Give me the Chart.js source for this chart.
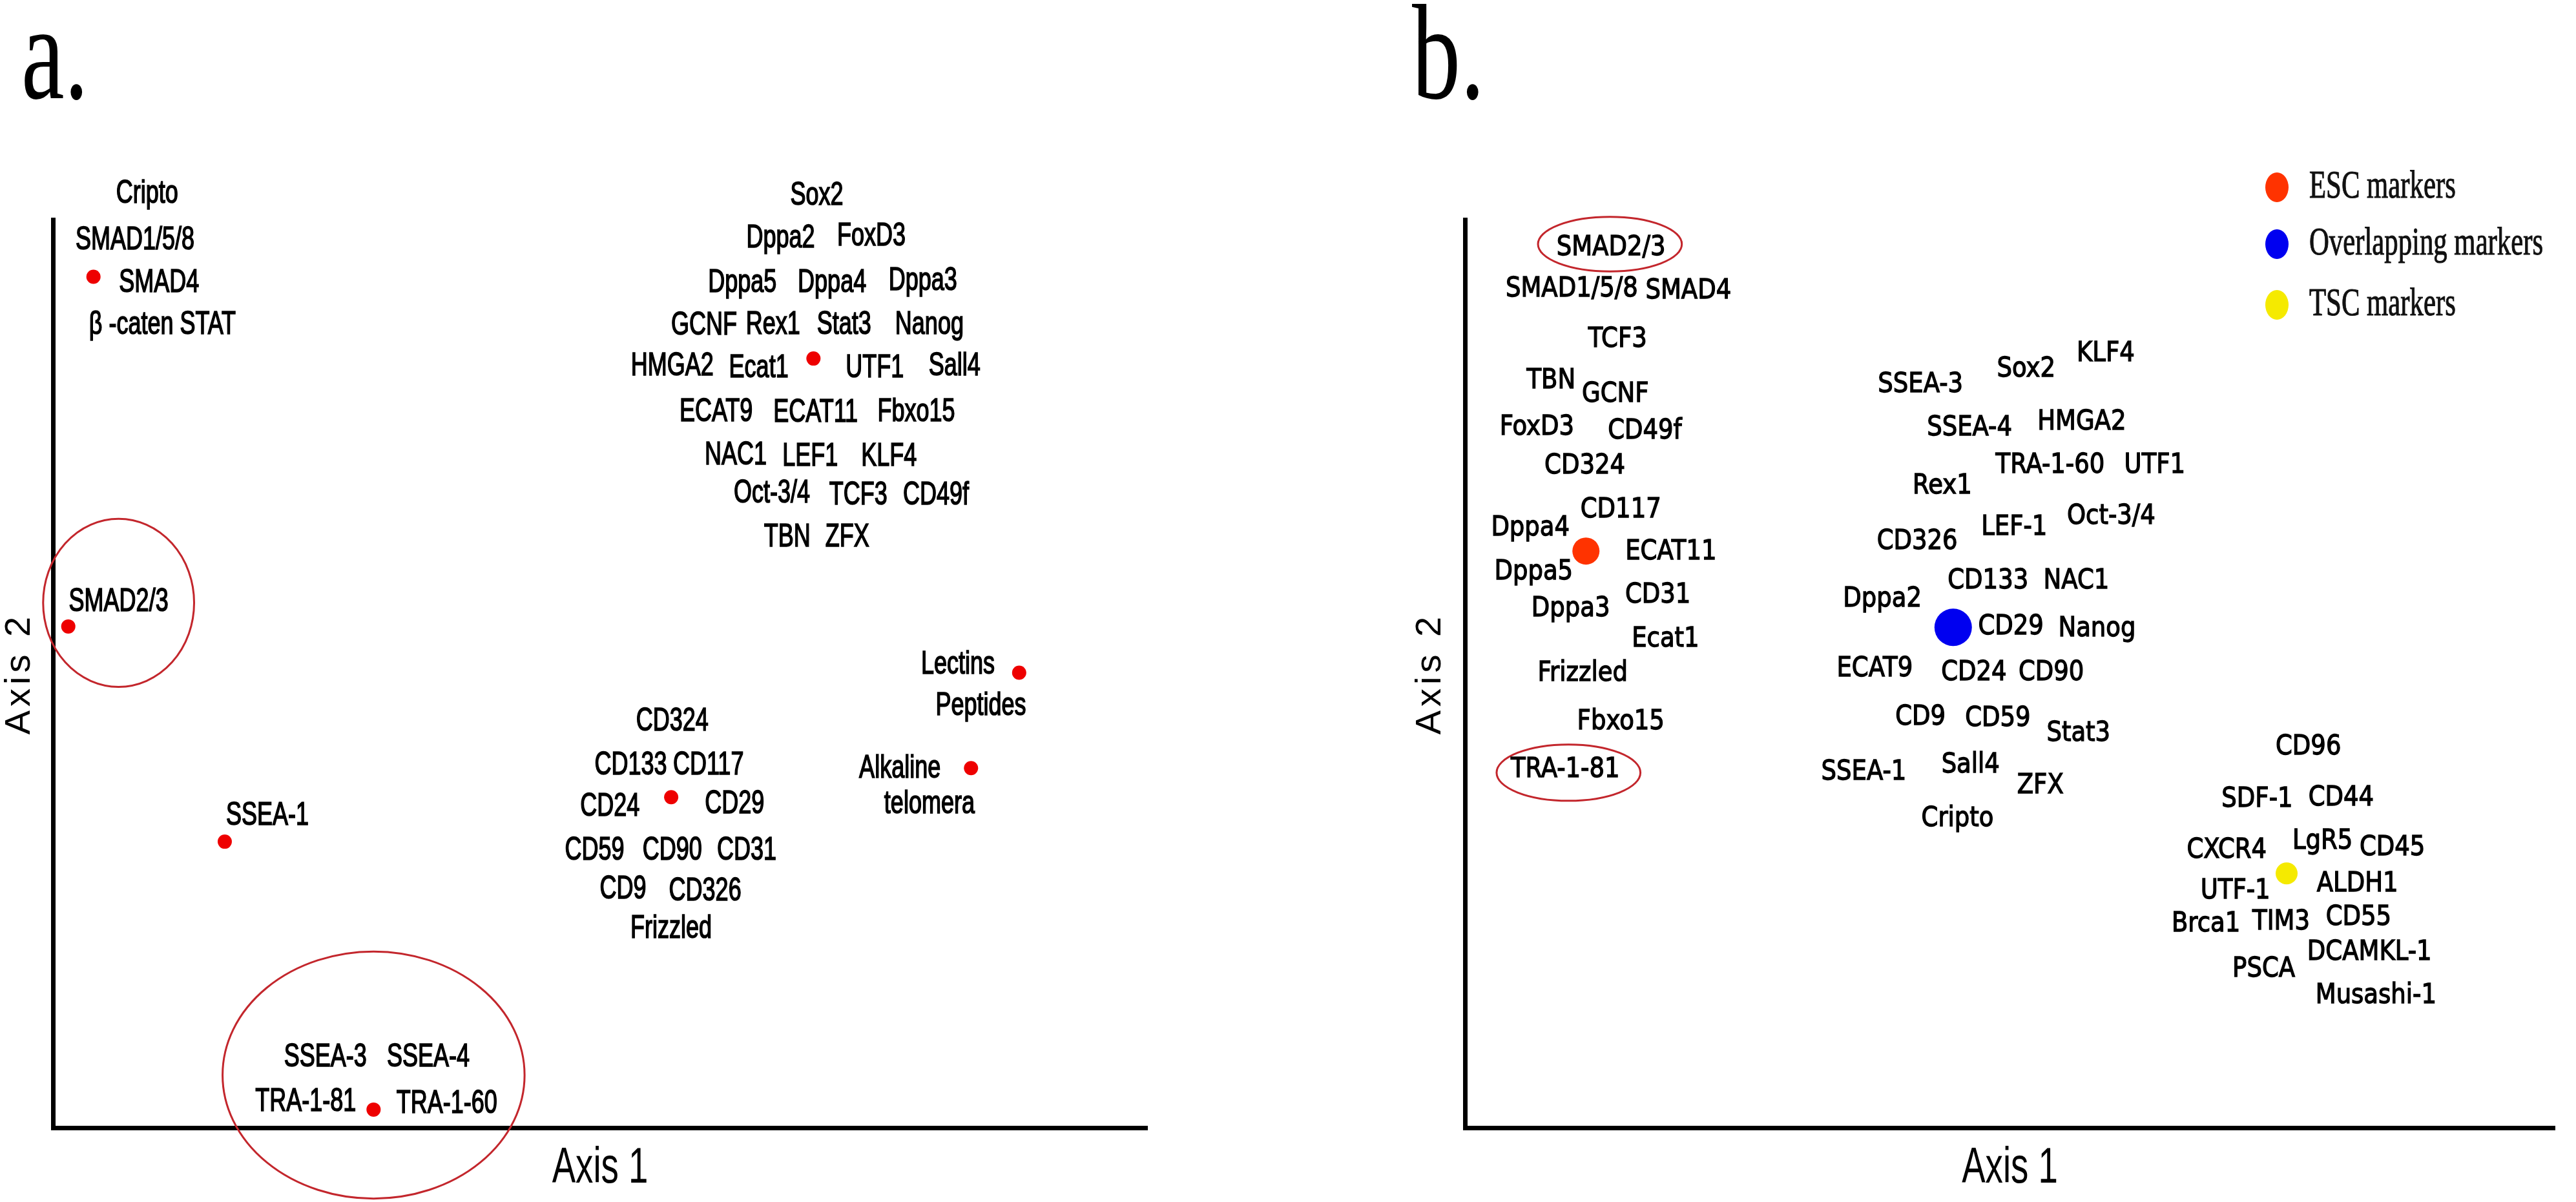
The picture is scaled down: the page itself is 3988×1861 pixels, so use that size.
<!DOCTYPE html>
<html>
<head>
<meta charset="utf-8">
<script src="https://cdn.jsdelivr.net/npm/chart.js@4/dist/chart.umd.min.js"></script>
<style>
  html, body { margin: 0; padding: 0; background: #fff; }
  body { width: 3988px; height: 1861px; position: relative; overflow: hidden; }
  canvas { position: absolute; top: 0; }
  #chartA { left: 0; }
  #chartB { left: 2150px; }
</style>
</head>
<body>
<canvas id="chartA" width="1990" height="1861"></canvas>
<canvas id="chartB" width="1838" height="1861"></canvas>
<script>
// ---- panel a: marker names and where they sit (axis units 0-100)
const aNames = ['Cripto', 'SMAD1/5/8', 'SMAD4', 'β -caten STAT', 'SMAD2/3',
    'Sox2', 'Dppa2', 'FoxD3', 'Dppa5', 'Dppa4', 'Dppa3',
    'GCNF', 'Rex1', 'Stat3', 'Nanog', 'HMGA2', 'Ecat1', 'UTF1', 'Sall4',
    'ECAT9', 'ECAT11', 'Fbxo15', 'NAC1', 'LEF1', 'KLF4',
    'Oct-3/4', 'TCF3', 'CD49f', 'TBN', 'ZFX',
    'Lectins', 'Peptides', 'Alkaline', 'telomera',
    'CD324', 'CD133', 'CD117', 'CD24', 'CD29', 'CD59', 'CD90', 'CD31', 'CD9', 'CD326', 'Frizzled',
    'SSEA-1', 'SSEA-3', 'SSEA-4', 'TRA-1-81', 'TRA-1-60'];
const aX = [8.6, 7.5, 9.7, 10.0, 6.0,
    69.8, 66.5, 74.8, 63.0, 71.2, 79.5,
    59.5, 65.8, 72.3, 80.1, 56.6, 64.5, 75.1, 82.4,
    60.6, 69.7, 78.9, 62.4, 69.2, 76.4,
    65.7, 73.6, 80.7, 67.1, 72.6,
    82.7, 84.8, 77.4, 80.1,
    56.6, 52.8, 59.9, 50.9, 62.3, 49.5, 56.6, 63.4, 52.1, 59.6, 56.5,
    19.6, 24.9, 34.3, 23.1, 36.0];
const aY = [102.8, 97.7, 93.0, 88.4, 57.9,
    102.6, 97.9, 98.1, 93.0, 93.0, 93.2,
    88.3, 88.4, 88.4, 88.4, 83.8, 83.6, 83.6, 83.8,
    78.8, 78.7, 78.8, 74.0, 73.9, 73.9,
    69.8, 69.6, 69.6, 65.0, 65.0,
    51.0, 46.4, 39.5, 35.6,
    44.7, 39.9, 39.9, 35.3, 35.6, 30.5, 30.5, 30.5, 26.2, 26.0, 21.9,
    34.3, 7.7, 7.7, 2.8, 2.6];
const aDotX = [3.7, 69.5, 1.4, 88.3, 83.9, 56.5, 15.7, 29.3];
const aDotY = [93.7, 84.7, 55.2, 50.1, 39.6, 36.4, 31.5, 2.0];
const aRingX = [6.0, 29.3];
const aRingY = [57.8, 5.8];
const aRingRX = [6.9, 13.8];
const aRingRY = [9.25, 13.6];

// ---- panel b
const bNames = ['SMAD2/3', 'SMAD1/5/8', 'SMAD4', 'TCF3', 'TBN', 'GCNF', 'FoxD3', 'CD49f', 'CD324',
    'CD117', 'Dppa4', 'ECAT11', 'Dppa5', 'CD31', 'Dppa3', 'Ecat1', 'Frizzled', 'Fbxo15', 'TRA-1-81',
    'SSEA-3', 'Sox2', 'KLF4', 'SSEA-4', 'HMGA2', 'TRA-1-60', 'UTF1', 'Rex1', 'Oct-3/4', 'LEF-1',
    'CD326', 'CD133', 'NAC1', 'Dppa2', 'CD29', 'Nanog', 'ECAT9', 'CD24', 'CD90', 'CD9', 'CD59',
    'Stat3', 'SSEA-1', 'Sall4', 'ZFX', 'Cripto',
    'CD96', 'SDF-1', 'CD44', 'CXCR4', 'LgR5', 'CD45', 'UTF-1', 'ALDH1', 'Brca1', 'TIM3', 'CD55',
    'DCAMKL-1', 'PSCA', 'Musashi-1'];
const bX = [13.4, 9.8, 20.5, 14.0, 7.9, 13.8, 6.6, 16.5, 11.0,
    14.3, 6.0, 18.9, 6.3, 17.7, 9.7, 18.4, 10.8, 14.3, 9.2,
    41.8, 51.5, 58.8, 46.3, 56.6, 53.7, 63.3, 43.8, 59.3, 50.4,
    41.5, 48.0, 56.1, 38.3, 50.1, 58.0, 37.6, 46.7, 53.8, 41.8, 48.9,
    56.3, 36.6, 46.4, 52.8, 45.2,
    77.4, 72.7, 80.4, 69.9, 78.7, 85.1, 70.7, 81.9, 68.0, 74.9, 82.0,
    83.0, 73.3, 83.6];
const bY = [96.9, 92.3, 92.1, 86.8, 82.2, 80.7, 77.1, 76.7, 72.8,
    68.0, 66.0, 63.4, 61.2, 58.6, 57.1, 53.8, 50.0, 44.7, 39.4,
    81.8, 83.5, 85.2, 77.0, 77.7, 72.9, 72.9, 70.6, 67.3, 66.1,
    64.5, 60.2, 60.2, 58.2, 55.1, 54.9, 50.5, 50.1, 50.1, 45.2, 45.0,
    43.4, 39.1, 39.9, 37.6, 34.0,
    41.9, 36.1, 36.3, 30.5, 31.5, 30.8, 26.0, 26.8, 22.4, 22.6, 23.1,
    19.3, 17.4, 14.5];
const legendNames = ['ESC markers', 'Overlapping markers', 'TSC markers'];
const bDotX = [11.1, 44.8, 75.4];
const bDotY = [63.5, 55.1, 28.0];
const bRingX = [13.3, 9.5];
const bRingY = [97.3, 39.1];
const bRingRX = [6.6, 6.6];
const bRingRY = [3.0, 3.1];

// text squeezed / stretched like the scanned figure
function stretchText(ctx, text, x, y, sx, sy, stroke) {
    ctx.save();
    ctx.translate(x, y);
    ctx.scale(sx, sy);
    ctx.fillText(text, 0, 0);
    if (stroke) {
        ctx.lineWidth = stroke;
        ctx.strokeText(text, 0, 0);
    }
    ctx.restore();
}

// draws rings, marker names, axis titles, panel letter and (for b) the legend
function annotate(cfg) {
    return {
        id: 'annotate',
        afterDraw(chart) {
            const { ctx, chartArea } = chart;
            const xs = chart.scales.x, ys = chart.scales.y;
            ctx.save();

            // red rings round groups
            ctx.strokeStyle = '#c3262c';
            ctx.lineWidth = 3;
            cfg.ringX.forEach((cx, i) => {
                const px = xs.getPixelForValue(cx);
                const py = ys.getPixelForValue(cfg.ringY[i]);
                const rx = xs.getPixelForValue(cx + cfg.ringRX[i]) - px;
                const ry = py - ys.getPixelForValue(cfg.ringY[i] + cfg.ringRY[i]);
                ctx.beginPath();
                ctx.ellipse(px, py, rx, ry, 0, 0, Math.PI * 2);
                ctx.stroke();
            });

            // marker names
            ctx.fillStyle = '#000';
            ctx.strokeStyle = '#000';
            ctx.font = cfg.font;
            ctx.textAlign = 'center';
            ctx.textBaseline = 'middle';
            cfg.names.forEach((name, i) => {
                stretchText(ctx, name, xs.getPixelForValue(cfg.xs[i]), ys.getPixelForValue(cfg.ys[i]),
                    cfg.sx, cfg.sy, cfg.stroke);
            });

            // axis titles
            ctx.font = '70px "Liberation Sans", Arial, sans-serif';
            stretchText(ctx, 'Axis 1', (chartArea.left + chartArea.right) / 2, 1810, 0.78, 1.1, 0);
            ctx.save();
            ctx.translate(cfg.axis2X, (chartArea.top + chartArea.bottom) / 2);
            ctx.rotate(-Math.PI / 2);
            ctx.font = '56px "Liberation Sans", Arial, sans-serif';
            ctx.letterSpacing = '6px';
            ctx.fillText('Axis 2', 0, 0);
            ctx.restore();

            // panel letter
            ctx.font = '150px "Liberation Serif", "Times New Roman", serif';
            ctx.textAlign = 'left';
            ctx.textBaseline = 'alphabetic';
            stretchText(ctx, cfg.letter, cfg.letterX, 152, 1, 1.4, 0);

            // legend
            if (cfg.legend) {
                const rows = [290, 378, 472];
                ctx.font = '45px "Liberation Serif", "Times New Roman", serif';
                ctx.textBaseline = 'middle';
                cfg.legend.forEach((name, i) => {
                    ctx.fillStyle = chart.data.datasets[i].backgroundColor;
                    ctx.beginPath();
                    ctx.ellipse(1375, rows[i], 18, 23, 0, 0, Math.PI * 2);
                    ctx.fill();
                    ctx.fillStyle = '#111';
                    ctx.strokeStyle = '#111';
                    stretchText(ctx, name, 1425, rows[i], 0.95, 1.35, 0.8);
                });
            }
            ctx.restore();
        }
    };
}

function axisOptions() {
    return {
        type: 'linear',
        min: 0,
        max: 100,
        ticks: { display: false },
        grid: { display: false, drawTicks: false, tickLength: 0 },
        border: { display: true, color: '#000', width: 7 }
    };
}

function baseOptions(padding) {
    return {
        responsive: false,
        animation: false,
        devicePixelRatio: 1,
        layout: { padding: padding },
        plugins: { legend: { display: false }, tooltip: { enabled: false } },
        scales: { x: axisOptions(), y: axisOptions() }
    };
}

function points(xs, ys) {
    return xs.map((v, i) => ({ x: v, y: ys[i] }));
}

// Panel a
new Chart(document.getElementById('chartA'), {
    type: 'scatter',
    data: {
        datasets: [{
            data: points(aDotX, aDotY),
            backgroundColor: '#ee0000',
            borderWidth: 0,
            pointRadius: 11,
            clip: false
        }]
    },
    options: baseOptions({ left: 82, right: 214, top: 340, bottom: 115 }),
    plugins: [annotate({
        names: aNames, xs: aX, ys: aY,
        ringX: aRingX, ringY: aRingY, ringRX: aRingRX, ringRY: aRingRY,
        font: '45px "Liberation Sans", Arial, sans-serif',
        sx: 0.8, sy: 1.1, stroke: 1.5,
        axis2X: 31, letter: 'a.', letterX: 33
    })]
});

// Panel b
const bColors = ['#ff3300', '#0000f0', '#f5ea00'];
const bRadius = [21, 29, 17];
new Chart(document.getElementById('chartB'), {
    type: 'scatter',
    data: {
        datasets: legendNames.map((name, i) => ({
            label: name,
            data: [{ x: bDotX[i], y: bDotY[i] }],
            backgroundColor: bColors[i],
            borderWidth: 0,
            pointRadius: bRadius[i],
            clip: false
        }))
    },
    options: baseOptions({ left: 118, right: 33, top: 340, bottom: 115 }),
    plugins: [annotate({
        names: bNames, xs: bX, ys: bY,
        ringX: bRingX, ringY: bRingY, ringRX: bRingRX, ringRY: bRingRY,
        font: '37px "DejaVu Sans", Verdana, sans-serif',
        sx: 1, sy: 1.15, stroke: 1.2,
        axis2X: 65, letter: 'b.', letterX: 36,
        legend: legendNames
    })]
});
</script>
</body>
</html>
